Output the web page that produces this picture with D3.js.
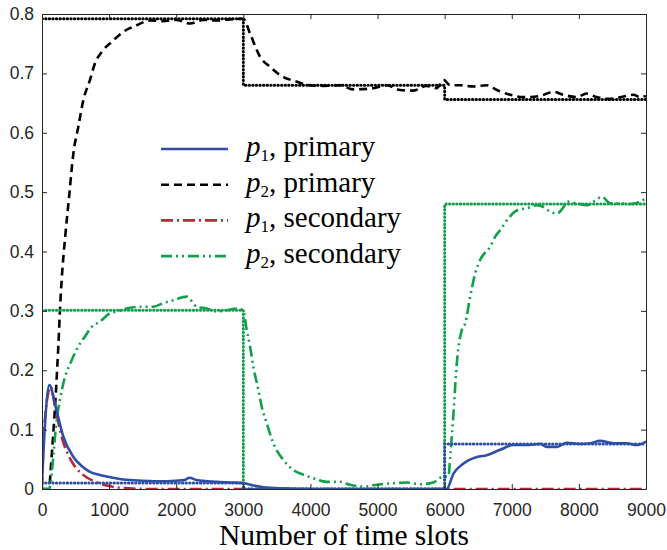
<!DOCTYPE html>
<html>
<head>
<meta charset="utf-8">
<script src="https://cdn.jsdelivr.net/npm/d3@7"></script>
<style>
  body { margin: 0; background: #fff; }
</style>
</head>
<body>
<svg width="667" height="550"></svg>
<script>
// time slot, probability
var p1Primary = [[0,0.01],[40,0.1],[110,0.175],[200,0.14],[318,0.088],[467,0.054],[600,0.038],[715,0.029],[850,0.024],[964,0.021],[1210,0.016],[1500,0.014],[1800,0.013],[2000,0.014],[2120,0.015],[2200,0.019],[2300,0.015],[2600,0.012],[2800,0.011],[3000,0.01],[3150,0.006],[3300,0.003],[3600,0.001],[4000,0],[6030,0],[6131,0.026],[6281,0.043],[6479,0.054],[6628,0.057],[6827,0.066],[7026,0.074],[7225,0.074],[7421,0.076],[7522,0.071],[7672,0.071],[7822,0.078],[8017,0.076],[8166,0.077],[8315,0.081],[8514,0.077],[8713,0.077],[8862,0.074],[9000,0.08]];

var p2Primary = [[0,0],[110,0],[119,0.015],[209,0.167],[243,0.24],[278,0.324],[293,0.352],[350,0.43],[402,0.49],[467,0.565],[541,0.61],[616,0.655],[715,0.689],[790,0.717],[889,0.736],[1038,0.753],[1212,0.77],[1411,0.781],[1609,0.789],[1800,0.788],[2000,0.79],[2205,0.784],[2400,0.79],[2600,0.789],[2800,0.791],[3000,0.792],[3100,0.767],[3249,0.728],[3398,0.711],[3547,0.697],[3795,0.686],[3994,0.68],[4192,0.679],[4440,0.68],[4639,0.673],[4937,0.675],[5136,0.68],[5334,0.672],[5533,0.671],[5732,0.679],[5881,0.675],[5983,0.689],[6082,0.68],[6231,0.68],[6429,0.678],[6628,0.68],[6777,0.672],[6975,0.664],[7175,0.66],[7421,0.662],[7619,0.669],[7768,0.664],[7967,0.66],[8116,0.666],[8265,0.66],[8463,0.657],[8662,0.661],[8811,0.664],[8910,0.66],[9000,0.662]];

var p1Secondary = [[0,0],[30,0.1],[130,0.172],[200,0.135],[300,0.085],[450,0.045],[600,0.025],[800,0.012],[1000,0.005],[1300,0.001],[1600,0],[9000,0]];

var p2Secondary = [[0,0],[110,0],[119,0.004],[219,0.116],[318,0.178],[442,0.217],[541,0.24],[641,0.257],[740,0.273],[864,0.282],[1013,0.296],[1113,0.299],[1262,0.304],[1460,0.307],[1659,0.307],[1808,0.313],[1957,0.318],[2156,0.324],[2305,0.307],[2454,0.304],[2603,0.299],[2752,0.301],[2901,0.304],[3000,0.301],[3050,0.268],[3100,0.24],[3149,0.206],[3224,0.167],[3273,0.139],[3348,0.111],[3447,0.077],[3596,0.049],[3745,0.032],[3894,0.024],[4043,0.018],[4241,0.012],[4440,0.012],[4590,0.007],[4788,0.004],[5036,0.008],[5285,0.01],[5434,0.011],[5633,0.008],[5832,0.011],[5981,0.021],[6057,0.021],[6082,0.054],[6131,0.127],[6181,0.212],[6256,0.268],[6306,0.279],[6380,0.324],[6455,0.363],[6530,0.386],[6678,0.408],[6753,0.425],[6827,0.436],[6951,0.456],[7075,0.469],[7225,0.473],[7374,0.478],[7473,0.475],[7573,0.467],[7672,0.464],[7772,0.475],[7822,0.484],[7971,0.481],[8120,0.478],[8220,0.484],[8344,0.492],[8469,0.481],[8617,0.481],[8766,0.48],[8915,0.484],[9000,0.49]];

// optimal values per interval
var stepTimes = [0, 3000, 6000, 9000];
var p1PrimaryOpt = [0.01, 0, 0.076, 0.076];
var p2PrimaryOpt = [0.792, 0.68, 0.656, 0.656];
var p2SecondaryOpt = [0.301, 0, 0.48, 0.48];

var xTicks = [0, 1000, 2000, 3000, 4000, 5000, 6000, 7000, 8000, 9000];
var yTicks = [0, 0.1, 0.2, 0.3, 0.4, 0.5, 0.6, 0.7, 0.8];

var blue = "#2f4fa6", black = "#000000", red = "#c1272d", green = "#12a04b";

var svg = d3.select("svg"),
  plotLeft = 42, plotRight = 646, plotTop = 14, plotBottom = 489;

var x = d3.scaleLinear().domain([0, 9000]).range([plotLeft, plotRight]);
var y = d3.scaleLinear().domain([0, 0.8]).range([plotBottom, plotTop]);

svg.append("clipPath").attr("id", "clip")
  .append("rect").attr("x", plotLeft).attr("y", plotTop - 3)
  .attr("width", plotRight - plotLeft).attr("height", plotBottom - plotTop + 4);

var plot = svg.append("g").attr("clip-path", "url(#clip)");

var line = d3.line()
  .x(function (d) { return x(d[0]); })
  .y(function (d) { return y(d[1]); })
  .curve(d3.curveMonotoneX);

var step = d3.line()
  .x(function (d) { return x(d[0]); })
  .y(function (d) { return y(d[1]); })
  .curve(d3.curveStepAfter);

function curve(data, color, dash) {
  plot.append("path")
    .datum(data)
    .attr("d", line)
    .style("fill", "none")
    .style("stroke", color)
    .style("stroke-width", 2.6)
    .style("stroke-dasharray", dash);
}

function optimum(levels, color) {
  plot.append("path")
    .datum(stepTimes.map(function (t, i) { return [t, levels[i]]; }))
    .attr("d", step)
    .style("fill", "none")
    .style("stroke", color)
    .style("stroke-width", 3)
    .style("stroke-linecap", "round")
    .style("stroke-dasharray", "0.4,3.2");
}

curve(p2Primary, black, "8,5");
curve(p1Secondary, red, "12,4,2,4");
curve(p2Secondary, green, "11,4,2,4,2,4");
curve(p1Primary, blue, null);

optimum(p2PrimaryOpt, black);
optimum(p2SecondaryOpt, green);
optimum(p1PrimaryOpt, blue);

// axes box with inward ticks
var axisColor = "#262626";
function styleAxis(g) {
  g.select(".domain").attr("stroke", axisColor);
  g.selectAll(".tick line").attr("stroke", axisColor);
  g.selectAll("text").attr("fill", axisColor)
    .style("font-family", "Liberation Sans, Arial, sans-serif").style("font-size", "17.5px");
}

svg.append("g")
  .attr("transform", "translate(0," + plotBottom + ")")
  .call(d3.axisBottom(x).tickValues(xTicks).tickSizeInner(-5).tickSizeOuter(0).tickPadding(15).tickFormat(d3.format("d")))
  .call(styleAxis);

svg.append("g")
  .attr("transform", "translate(0," + plotTop + ")")
  .call(d3.axisTop(x).tickValues(xTicks).tickSizeInner(-5).tickSizeOuter(0).tickFormat(""))
  .call(styleAxis);

svg.append("g")
  .attr("transform", "translate(" + plotLeft + ",0)")
  .call(d3.axisLeft(y).tickValues(yTicks).tickSizeInner(-5).tickSizeOuter(0).tickPadding(8)
    .tickFormat(function (d) { return d === 0 ? "0" : d3.format(".1f")(d); }))
  .call(styleAxis);

svg.append("g")
  .attr("transform", "translate(" + plotRight + ",0)")
  .call(d3.axisRight(y).tickValues(yTicks).tickSizeInner(-5).tickSizeOuter(0).tickFormat(""))
  .call(styleAxis);

svg.append("text")
  .attr("x", (plotLeft + plotRight) / 2)
  .attr("y", 545)
  .attr("text-anchor", "middle")
  .style("font-family", "Liberation Serif, Times New Roman, serif")
  .style("font-size", "29.5px")
  .text("Number of time slots");

// legend
var legendItems = [
  { sub: "1", label: ", primary", color: blue, dash: null },
  { sub: "2", label: ", primary", color: black, dash: "8,5" },
  { sub: "1", label: ", secondary", color: red, dash: "12,4,2,4" },
  { sub: "2", label: ", secondary", color: green, dash: "11,4,2,4,2,4" }
];

var legend = svg.append("g");
legendItems.forEach(function (d, i) {
  var ly = 149 + i * 35.7;
  legend.append("line")
    .attr("x1", 161).attr("x2", 228)
    .attr("y1", ly).attr("y2", ly)
    .style("stroke", d.color)
    .style("stroke-width", 2.6)
    .style("stroke-dasharray", d.dash);
  var t = legend.append("text")
    .attr("x", 246).attr("y", ly + 7)
    .style("font-family", "Liberation Serif, Times New Roman, serif")
    .style("font-size", "29px")
    .style("fill", "#000");
  t.append("tspan").style("font-style", "italic").text("p");
  t.append("tspan").attr("dy", 5).style("font-size", "17px").text(d.sub);
  t.append("tspan").attr("dy", -5).text(d.label);
});
</script>
</body>
</html>
